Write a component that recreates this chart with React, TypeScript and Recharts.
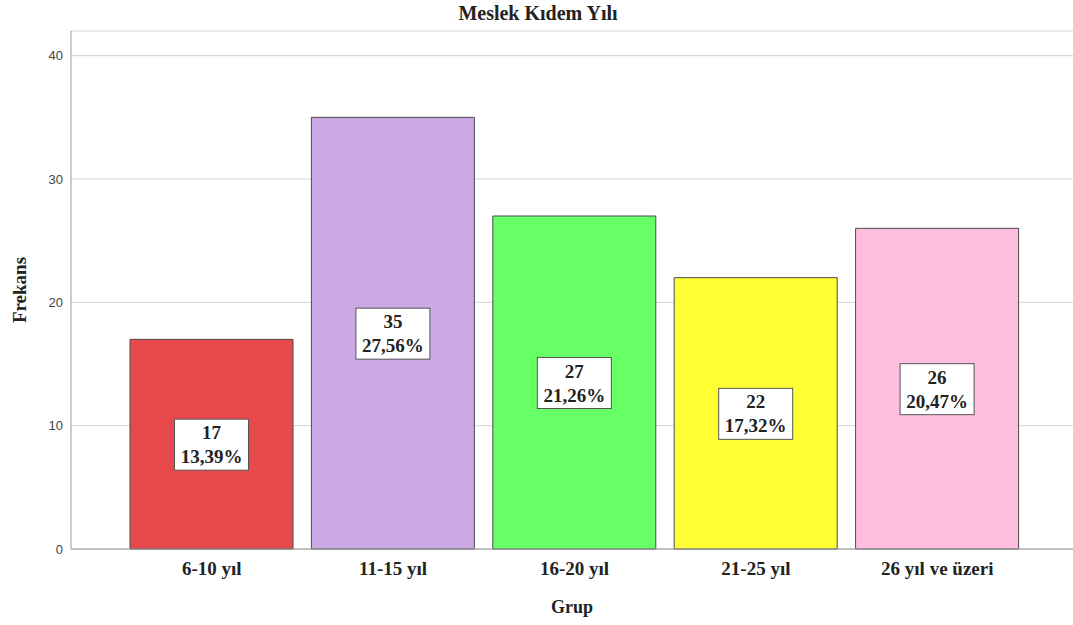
import React from "react";
import {
  BarChart,
  Bar,
  XAxis,
  YAxis,
  CartesianGrid,
  Cell,
  LabelList,
  Label,
} from "recharts";

const GROUPS = ["6-10 yıl", "11-15 yıl", "16-20 yıl", "21-25 yıl", "26 yıl ve üzeri"];
const COUNTS = [17, 35, 27, 22, 26];
const COLORS = ["#E8494C", "#CBA9E4", "#66FF66", "#FFFF33", "#FFBDDF"];
const Y_TICKS = [0, 10, 20, 30, 40];

const TOTAL = COUNTS.reduce((a, b) => a + b, 0);
const data = GROUPS.map((grup, i) => ({
  grup,
  frekans: COUNTS[i],
  yuzde: ((COUNTS[i] / TOTAL) * 100).toFixed(2).replace(".", ",") + "%",
}));

const SERIF = "'Liberation Serif', 'DejaVu Serif', serif";

// white box with count and percentage, centred in the bar
const BoxLabel = (props: any) => {
  const { x, y, width, height, index } = props;
  const cx = x + width / 2;
  const cy = y + height / 2;
  const d = data[index];
  return (
    <g>
      <rect x={cx - 37} y={cy - 25} width={74} height={51} fill="#fff" stroke="#555" strokeWidth={1} />
      <text x={cx} y={cy - 5} textAnchor="middle" fontFamily={SERIF} fontWeight="bold" fontSize={19} fill="#222">
        {d.frekans}
      </text>
      <text x={cx} y={cy + 19} textAnchor="middle" fontFamily={SERIF} fontWeight="bold" fontSize={19} fill="#222">
        {d.yuzde}
      </text>
    </g>
  );
};

const YLabel = () => (
  <text
    x={26}
    y={290}
    transform="rotate(-90 26 290)"
    textAnchor="middle"
    fontFamily={SERIF}
    fontWeight="bold"
    fontSize={19}
    fill="#222"
  >
    Frekans
  </text>
);

export default function App() {
  return (
    <div style={{ position: "absolute", left: 0, top: 0, width: 1073, height: 625, background: "#fff" }}>
      <div
        style={{
          position: "absolute",
          left: 0,
          width: 1076,
          top: 2,
          textAlign: "center",
          fontFamily: SERIF,
          fontWeight: "bold",
          fontSize: 20,
          color: "#222",
        }}
      >
        Meslek Kıdem Yılı
      </div>
      <BarChart width={1073} height={625} data={data} margin={{ top: 31, right: 0, bottom: 0, left: 0 }}>
        <CartesianGrid vertical={false} stroke="#d2d2d2" />
        <XAxis
          dataKey="grup"
          height={76}
          padding={{ left: 50, right: 45 }}
          axisLine={{ stroke: "#999" }}
          tickLine={false}
          tickSize={6}
          tickMargin={7}
          tick={{ fontFamily: SERIF, fontWeight: "bold", fontSize: 19, fill: "#222" }}
        >
          <Label
            value="Grup"
            position="insideBottom"
            offset={12}
            style={{ fontFamily: SERIF, fontWeight: "bold", fontSize: 18, fill: "#222" }}
          />
        </XAxis>
        <YAxis
          width={71}
          domain={[0, 42]}
          ticks={Y_TICKS}
          axisLine={{ stroke: "#999" }}
          tickLine={false}
          tickSize={4}
          tickMargin={4}
          tick={{ fontFamily: "Arial, 'Liberation Sans', sans-serif", fontSize: 13, fill: "#444" }}
          label={<Label content={YLabel} />}
        />
        <Bar dataKey="frekans" barSize={163} stroke="#4a4a4a" strokeWidth={1} isAnimationActive={false}>
          {data.map((d, i) => (
            <Cell key={d.grup} fill={COLORS[i]} />
          ))}
          <LabelList dataKey="frekans" content={BoxLabel} />
        </Bar>
      </BarChart>
    </div>
  );
}
